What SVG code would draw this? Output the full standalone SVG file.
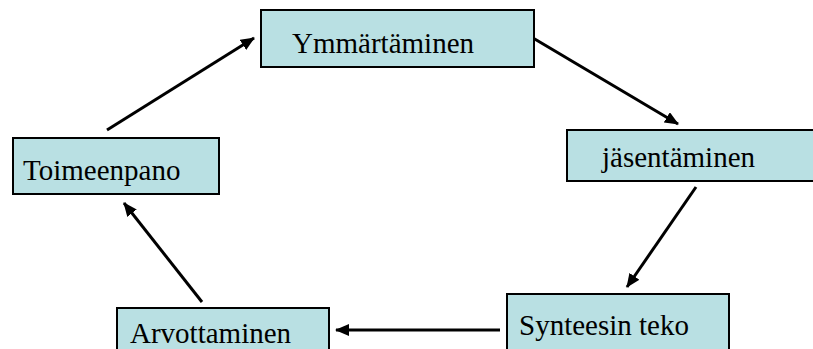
<svg xmlns="http://www.w3.org/2000/svg" width="813" height="349" viewBox="0 0 813 349">
<style>
.box{fill:#b9e0e3;stroke:#000;stroke-width:2}
.lbl{font-family:"Liberation Serif","Times New Roman",serif;font-size:29px;fill:#000}
.con{stroke:#000;stroke-width:3;fill:none;marker-end:url(#ah)}
</style>
<defs>
<marker id="ah" markerUnits="userSpaceOnUse" markerWidth="14" markerHeight="12" refX="13" refY="6" orient="auto">
<path d="M0,0 L14,6 L0,12 Z" fill="#000"/>
</marker>
</defs>
<rect width="813" height="349" fill="#fff"/>
<g id="connectors">
<line class="con" x1="107" y1="130" x2="254" y2="38"/>
<line class="con" x1="533" y1="38" x2="678" y2="124"/>
<line class="con" x1="696" y1="187" x2="627" y2="287"/>
<line class="con" x1="202" y1="302" x2="124" y2="203"/>
<line class="con" x1="500" y1="330" x2="336" y2="330"/>
</g>
<g id="ymmartaminen">
<rect class="box" x="261" y="10" width="273" height="57"/>
<text class="lbl" x="292" y="53">Ymmärtäminen</text>
</g>
<g id="jasentaminen">
<rect class="box" x="567" y="130" width="250" height="51"/>
<text class="lbl" x="602" y="167">jäsentäminen</text>
</g>
<g id="synteesin">
<rect class="box" x="507" y="294" width="222" height="70"/>
<text class="lbl" x="519" y="335">Synteesin teko</text>
</g>
<g id="arvottaminen">
<rect class="box" x="117" y="308" width="212" height="60"/>
<text class="lbl" x="130" y="343">Arvottaminen</text>
</g>
<g id="toimeenpano">
<rect class="box" x="13" y="138" width="206" height="56"/>
<text class="lbl" x="23" y="180">Toimeenpano</text>
</g>
</svg>
